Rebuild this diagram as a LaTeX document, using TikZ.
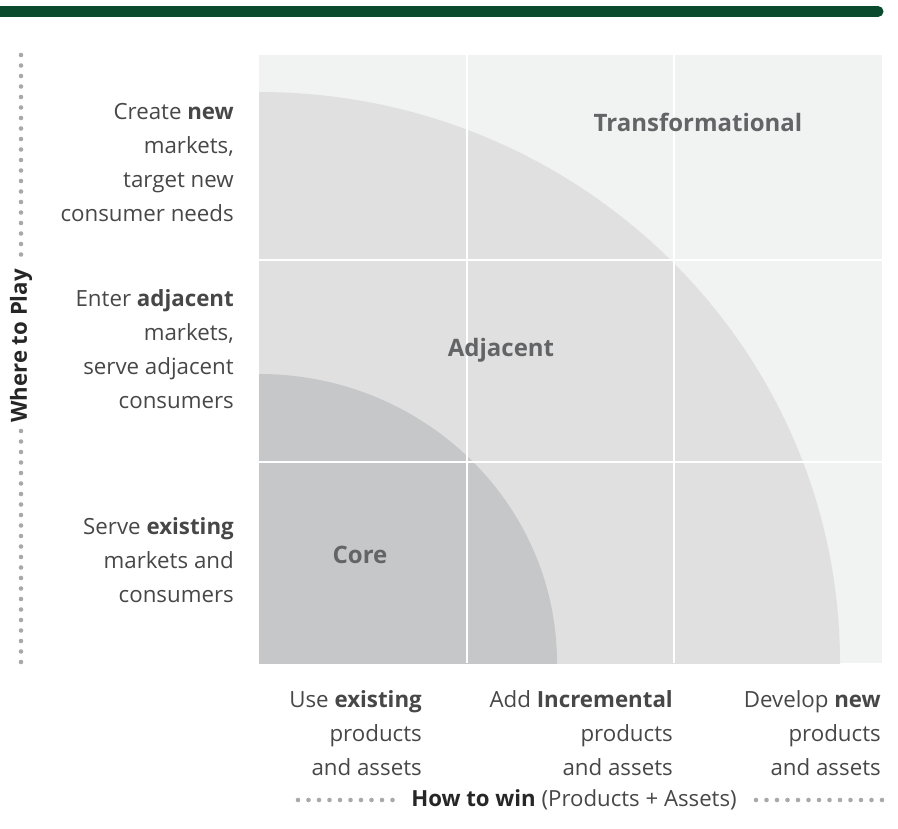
\documentclass[tikz,border=0pt]{standalone}
\usepackage{fontspec}
\setmainfont{Open Sans}
\usetikzlibrary{positioning}

\definecolor{barGreen}{HTML}{0B4A2C}
\definecolor{panelGray}{HTML}{F1F2F2}
\definecolor{adjGray}{HTML}{E0E0E0}
\definecolor{coreGray}{HTML}{C6C7C8}
\definecolor{zoneText}{HTML}{636466}
\definecolor{bodyText}{HTML}{474747}
\definecolor{dotGray}{HTML}{A7A9AC}

\tikzset{
  rowlabel/.style={anchor=east, align=right, inner sep=0pt, text=bodyText,
    font=\fontsize{22.3}{34}\selectfont},
  zonelabel/.style={inner sep=0pt, text=zoneText, font=\fontsize{24}{28}\selectfont\bfseries},
  axislabel/.style={inner sep=0pt, text=bodyText, font=\fontsize{22.2}{26}\selectfont},
  gridline/.style={white, line width=1.6pt},
  dot/.style={fill=dotGray}
}

\begin{document}
\begin{tikzpicture}[x=1pt, y=-1pt]

\useasboundingbox (0,0) rectangle (898,829);

% green bar on top
\draw[barGreen, line width=11pt, line cap=round] (-20,11.5) -- (878,11.5);

% the panel and the two rings
\fill[panelGray] (259,55) rectangle (882,663);
\begin{scope}
  \clip (259,55) rectangle (882,663);
  \fill[adjGray] (259,663) ellipse [x radius=581, y radius=571];
  \fill[coreGray] (259,663) ellipse [x radius=298, y radius=289];
\end{scope}

\foreach \x in {467,674}
  \draw[gridline] (\x,55) -- (\x,663);
\foreach \y in {260,462}
  \draw[gridline] (259,\y) -- (882,\y);

\node[zonelabel] (transformational) at (698,122) {Transformational};
\node[zonelabel] (adjacent) at (501,350) {Adjacent};
\node[zonelabel] (core) at (360,555) {Core};

% where to play
\node[rowlabel] (rownew) at (234,163) {Create \textbf{new}\\markets,\\target new\\consumer needs};
\node[rowlabel] (rowadjacent) at (234,349) {Enter \textbf{adjacent}\\markets,\\serve adjacent\\consumers};
\node[rowlabel] (rowexisting) at (234,560) {Serve \textbf{existing}\\markets and\\consumers};

% how to win
\node[rowlabel] (colexisting) at (422,733) {Use \textbf{existing}\\products\\and assets};
\node[rowlabel] (colincremental) at (673,733) {Add \textbf{Incremental}\\products\\and assets};
\node[rowlabel] (colnew) at (881,733) {Develop \textbf{new}\\products\\and assets};

% axis titles with dotted leaders
\node[axislabel, rotate=90] (wheretoplay) at (21,346) {\textbf{\color{black!85}Where to Play}};
\node[axislabel] (howtowin) at (574,800) {\textbf{\color{black!85}How to win} (Products + Assets)};

\foreach \y in {55,65.5,...,262}
  \fill[dot] (21,\y) circle (2.3);
\foreach \y in {662,651.5,...,428}
  \fill[dot] (21,\y) circle (2.3);
\foreach \x in {298,308.5,...,402}
  \fill[dot] (\x,800) circle (2.3);
\foreach \x in {882,871.5,...,752}
  \fill[dot] (\x,800) circle (2.3);

\end{tikzpicture}
\end{document}
